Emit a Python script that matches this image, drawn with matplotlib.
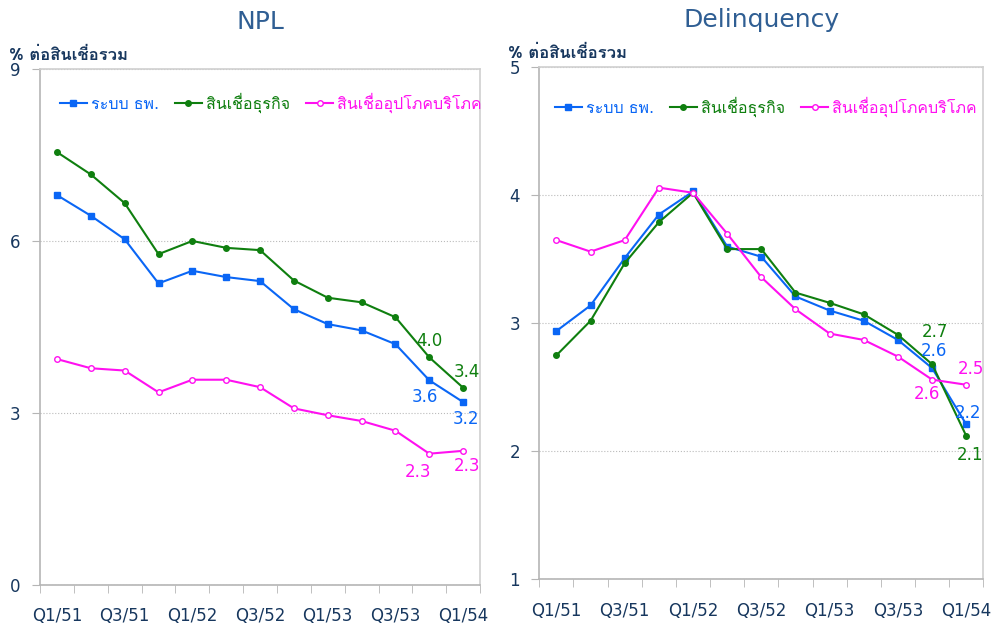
import matplotlib
matplotlib.use("Agg")
import matplotlib.pyplot as plt
from matplotlib import font_manager
from matplotlib.ft2font import FT2Font

# quarters (Thai Buddhist years)
quarters = ["Q1/51", "Q2/51", "Q3/51", "Q4/51", "Q1/52", "Q2/52", "Q3/52",
            "Q4/52", "Q1/53", "Q2/53", "Q3/53", "Q4/53", "Q1/54"]

series_names = ["ระบบ ธพ.", "สินเชื่อธุรกิจ", "สินเชื่ออุปโภคบริโภค"]

npl_system = [6.80, 6.44, 6.03, 5.26, 5.48, 5.37, 5.30, 4.81, 4.55, 4.44, 4.20, 3.57, 3.19]
npl_business = [7.55, 7.16, 6.66, 5.77, 6.00, 5.88, 5.84, 5.31, 5.01, 4.93, 4.67, 3.97, 3.44]
npl_consumer = [3.94, 3.78, 3.74, 3.36, 3.58, 3.58, 3.45, 3.08, 2.96, 2.86, 2.69, 2.29, 2.34]

dq_system = [2.94, 3.14, 3.51, 3.85, 4.03, 3.60, 3.52, 3.21, 3.10, 3.02, 2.87, 2.65, 2.21]
dq_business = [2.75, 3.02, 3.47, 3.79, 4.02, 3.58, 3.58, 3.24, 3.16, 3.07, 2.91, 2.68, 2.12]
dq_consumer = [3.65, 3.56, 3.65, 4.06, 4.02, 3.70, 3.36, 3.11, 2.92, 2.87, 2.74, 2.56, 2.52]


def find_thai_family():
    for f in font_manager.fontManager.ttflist:
        try:
            if 0x0E2A in FT2Font(f.fname).get_charmap():
                return f.name
        except Exception:
            pass
    return None


thai = find_thai_family()
fams = ["DejaVu Sans"] + ([thai] if thai else [])
plt.rcParams["font.family"] = fams
unit_fams = ([thai] if thai else []) + ["DejaVu Sans"]

BLUE = "#0A66F5"
GREEN = "#0F7F0F"
MAGENTA = "#FF10F0"
NAVY = "#17375E"
TITLE = "#2F5E93"
SPINE = "#B5B5B5"

styles = [
    dict(color=BLUE, marker="s", ms=4.5, mfc=BLUE, mec=BLUE),
    dict(color=GREEN, marker="o", ms=4, mfc=GREEN, mec=GREEN),
    dict(color=MAGENTA, marker="o", ms=4, mfc="white", mec=MAGENTA, mew=1),
]

fig = plt.figure(figsize=(9.96, 6.28), dpi=100)
ax1 = fig.add_axes([0.0402, 0.0685, 0.4418, 0.8217])
ax2 = fig.add_axes([0.5415, 0.0775, 0.4458, 0.8153])

x = list(range(len(quarters)))


def setup(ax, title, ylim, yticks, data, labels, leg_anchor):
    for vals, name, st in zip(data, series_names, styles):
        ax.plot(x, vals, lw=1.5, label=name, **st)
    ax.set_xlim(-0.5, len(quarters) - 0.5)
    ax.set_ylim(*ylim)
    ax.set_yticks(yticks)
    ax.set_xticks(x[::2])
    ax.set_xticklabels(quarters[::2])
    ax.set_xticks([i - 0.5 for i in range(len(quarters) + 1)], minor=True)
    ax.tick_params(axis="x", which="major", length=0, pad=16, labelsize=12, labelcolor=NAVY)
    ax.tick_params(axis="x", which="minor", length=6, color=SPINE, direction="out")
    ax.tick_params(axis="y", length=6, color=SPINE, labelsize=12, labelcolor=NAVY, pad=8)
    ax.grid(axis="y", color="#BBBBBB", ls=":", lw=0.8)
    for s in ax.spines.values():
        s.set_color(SPINE)
        s.set_linewidth(1.2)
    ax.spines["top"].set_color("#D0D0D0")
    ax.spines["right"].set_color("#D0D0D0")
    ax.set_title(title, fontsize=18, color=TITLE, pad=29)
    ax.text(-0.07, 1.012, "% ต่อสินเชื่อรวม", transform=ax.transAxes, fontsize=12,
            family=unit_fams, color=NAVY, fontweight="bold", ha="left", va="bottom")
    leg = ax.legend(loc="center left", bbox_to_anchor=leg_anchor, ncol=3, frameon=False,
                    handlelength=1.7, handletextpad=0.25, columnspacing=1.0,
                    fontsize=11.5, borderaxespad=0)
    for t, st in zip(leg.get_texts(), styles):
        t.set_color(st["color"])
    for (si, idx, txt, dx, dy) in labels:
        ax.annotate(txt, (idx, data[si][idx]), xytext=(dx, dy), textcoords="offset points",
                    ha="center", va="center", fontsize=12, color=styles[si]["color"])


setup(ax1, "NPL", (0, 9), [0, 3, 6, 9],
      [npl_system, npl_business, npl_consumer],
      [(1, 11, "4.0", 0, 12), (1, 12, "3.4", 3, 11),
       (0, 11, "3.6", -3, -12), (0, 12, "3.2", 2, -12),
       (2, 11, "2.3", -8, -13), (2, 12, "2.3", 3, -11)],
      (0.03, 0.934))

setup(ax2, "Delinquency", (1, 5), [1, 2, 3, 4, 5],
      [dq_system, dq_business, dq_consumer],
      [(1, 11, "2.7", 2, 23), (0, 11, "2.6", 1, 12),
       (2, 12, "2.5", 3, 11), (2, 11, "2.6", -4, -10),
       (0, 12, "2.2", 1, 8), (1, 12, "2.1", 3, -14)],
      (0.02, 0.923))

fig.savefig("out.png", dpi=100)
